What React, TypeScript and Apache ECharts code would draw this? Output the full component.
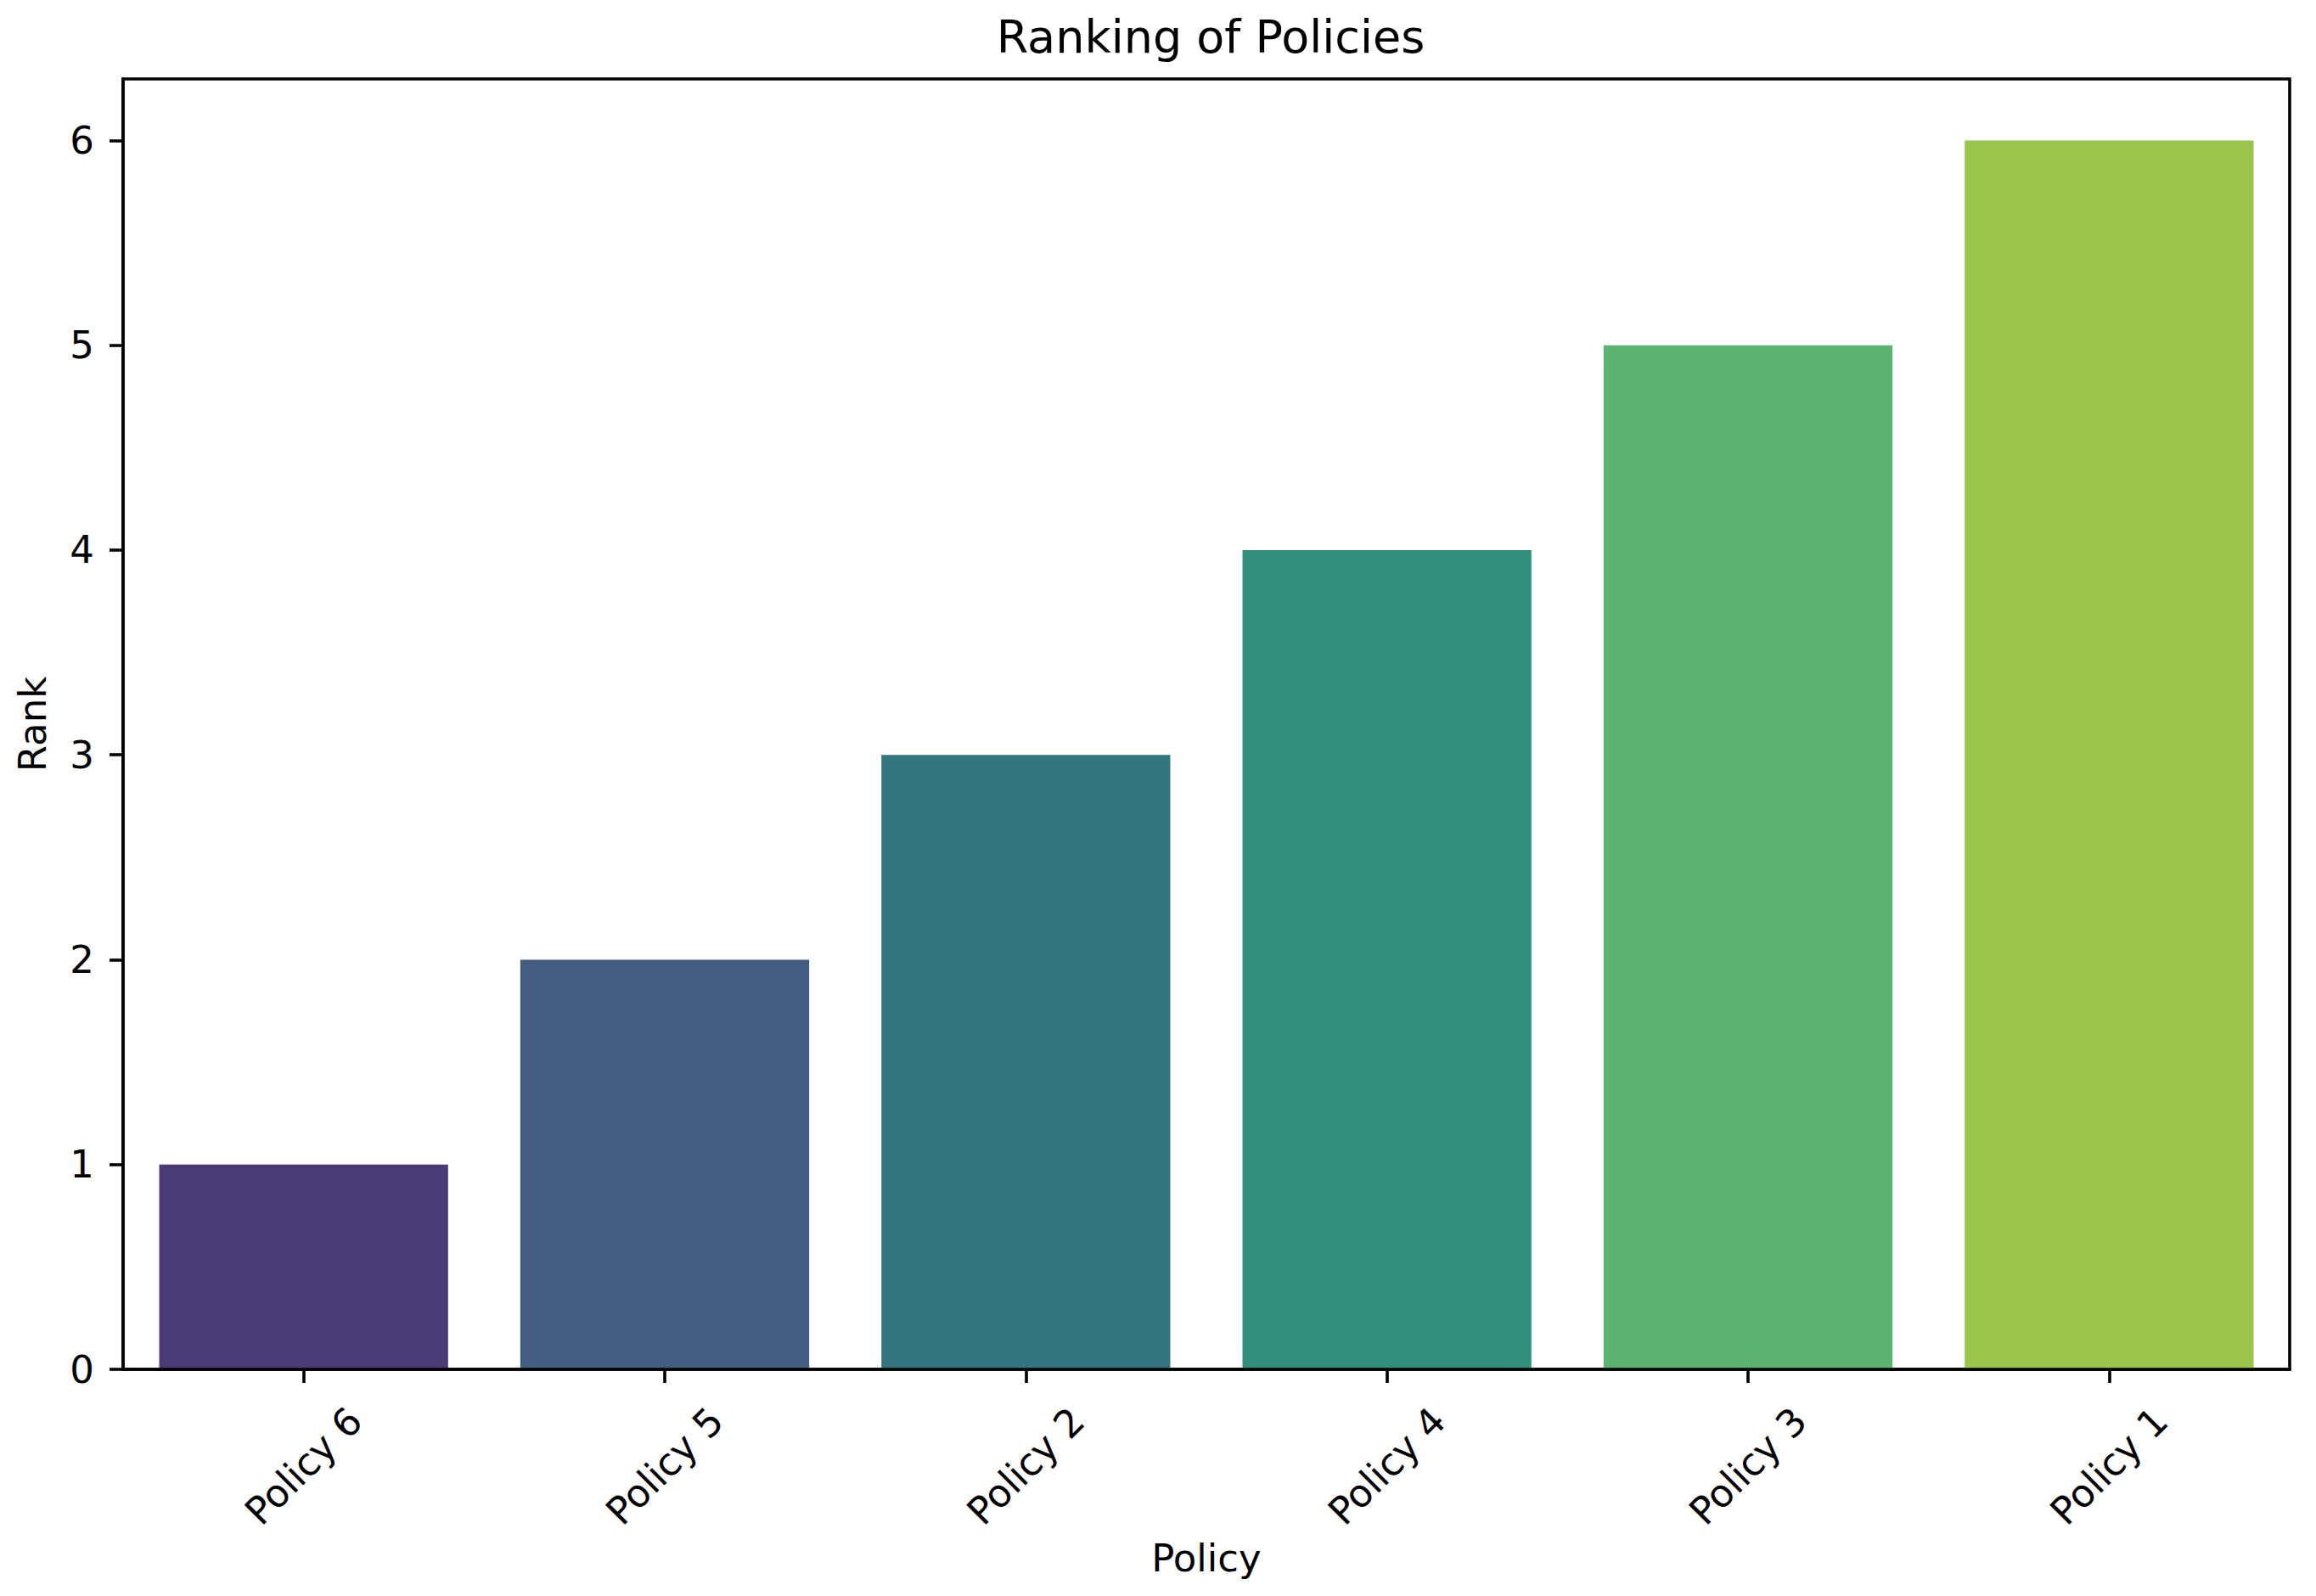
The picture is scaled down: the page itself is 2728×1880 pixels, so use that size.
import { useEffect, useRef } from 'react';
import * as echarts from 'echarts';

const categories = ['Policy 6', 'Policy 5', 'Policy 2', 'Policy 4', 'Policy 3', 'Policy 1'];
const ranks = [1, 2, 3, 4, 5, 6];
const barColors = ['#4a3b74', '#425d81', '#347680', '#32917d', '#5bb373', '#9ac54c'];
const yTicks = [0, 1, 2, 3, 4, 5, 6];

const FONT = 'DejaVu Sans';

const RankingChart = () => {
  const chartRef = useRef<HTMLDivElement>(null);

  useEffect(() => {
    document.body.style.margin = '0';
    if (!chartRef.current) return;
    const chart = echarts.init(chartRef.current, null, { renderer: 'svg' });

    const option = {
      animation: false,
      backgroundColor: '#ffffff',
      textStyle: { fontFamily: FONT, color: '#000' },
      title: {
        text: 'Ranking of Policies',
        left: 1421,
        top: 11,
        textAlign: 'center',
        textStyle: { fontFamily: FONT, fontSize: 54, fontWeight: 'normal', color: '#000' }
      },
      grid: {
        left: 145,
        right: 31,
        top: 93,
        bottom: 267,
        show: true,
        borderColor: '#000',
        borderWidth: 3.6,
        backgroundColor: 'transparent'
      },
      xAxis: {
        type: 'category',
        data: categories,
        z: 3,
        name: 'Policy',
        nameLocation: 'middle',
        nameGap: 200,
        nameTextStyle: { fontFamily: FONT, fontSize: 45, color: '#000' },
        axisLine: { show: true, lineStyle: { color: '#000', width: 3.6 } },
        axisTick: { show: true, alignWithLabel: true, length: 16, lineStyle: { color: '#000', width: 3.6 } },
        axisLabel: {
          interval: 0,
          rotate: 45,
          align: 'center',
          verticalAlign: 'middle',
          margin: 114,
          fontFamily: FONT,
          fontSize: 45,
          color: '#000'
        },
        splitLine: { show: false }
      },
      yAxis: {
        type: 'value',
        min: 0,
        max: 6.3,
        interval: 1,
        z: 3,
        name: 'Rank',
        nameLocation: 'middle',
        nameGap: 84,
        nameRotate: 90,
        nameTextStyle: { fontFamily: FONT, fontSize: 45, color: '#000' },
        axisLine: { show: true, lineStyle: { color: '#000', width: 3.6 } },
        axisTick: { show: true, length: 16, customValues: yTicks, lineStyle: { color: '#000', width: 3.6 } },
        axisLabel: {
          customValues: yTicks,
          margin: 34,
          fontFamily: FONT,
          fontSize: 45,
          color: '#000'
        },
        splitLine: { show: false }
      },
      series: [
        {
          type: 'bar',
          barWidth: '80%',
          data: ranks.map((v, i) => ({ value: v, itemStyle: { color: barColors[i] } }))
        }
      ]
    };

    chart.setOption(option);
    return () => chart.dispose();
  }, []);

  return <div ref={chartRef} style={{ width: '2728px', height: '1880px' }} />;
};

export default function App() {
  return <RankingChart />;
}
